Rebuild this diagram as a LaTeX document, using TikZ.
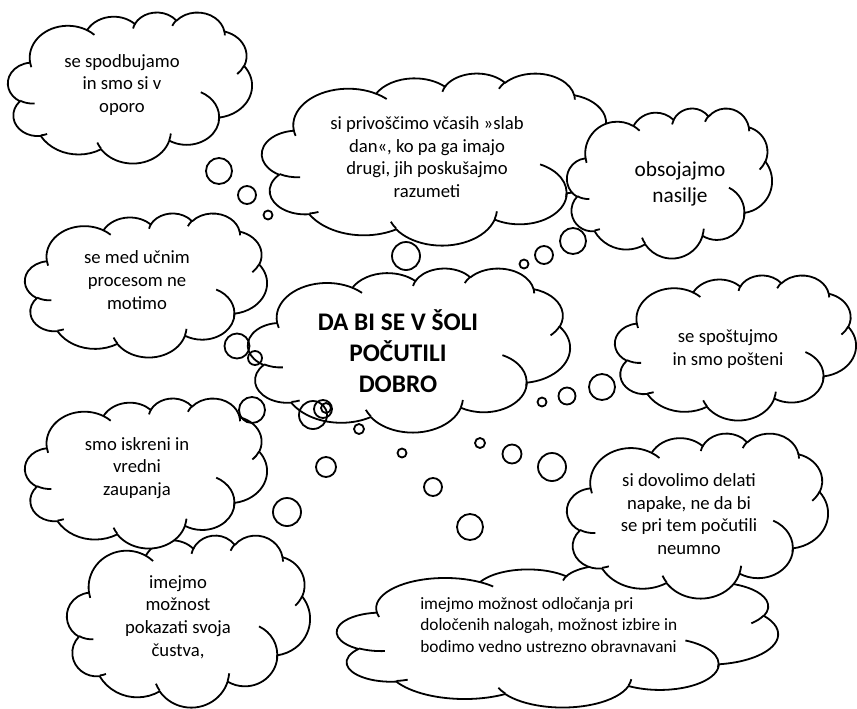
\documentclass[tikz,border=0pt]{standalone}
\usepackage{fontspec}
\setmainfont{Carlito}
\usetikzlibrary{positioning}

% cloud outline and inner creases, in a 43.2 x 43.2 box
\def\cloudrim{}
\foreach \wr/\hr/\st/\sw in {6.753/9.190/-190.4875/123.7805, 5.333/7.267/-144.1024/89.9452,
	4.365/5.945/-145.8079/99.7230, 4.857/6.595/-130.9861/117.2417, 5.333/7.273/-78.7089/109.0269,
	6.775/9.220/-46.2673/130.2690, 5.785/7.867/0.6250/114.0333, 6.752/9.215/22.4516/115.1726,
	7.720/10.543/66.2426/75.7110, 4.360/5.918/-274.9421/146.7356, 4.345/5.945/-246.8285/152.5189}{
	\pgfmathsetmacro\ta{atan2(\wr*sin(\st),\hr*cos(\st))}
	\pgfmathsetmacro\tb{atan2(\wr*sin(\st+\sw),\hr*cos(\st+\sw))}
	\pgfmathsetmacro\td{mod(\tb-\ta+720,360)}
	\xdef\cloudrim{\cloudrim arc[start angle=\ta, delta angle=\td, x radius=\wr, y radius=\hr]}
}
\def\cloudcrease{}
\foreach \px/\py/\wr/\hr/\st/\sw in {4.693/26.177/4.345/5.945/86.742/26.4295,
	6.928/34.899/4.360/5.918/73.6105/11.4475, 16.478/39.090/6.752/9.215/137.6242/14.0811,
	28.827/34.751/6.752/9.215/6.4533/15.9984, 34.129/22.954/5.785/7.867/-70.2924/81.5787,
	41.798/15.354/5.333/7.273/30.3180/24.5677, 38.324/5.426/4.857/6.595/-13.7443/14.8541,
	29.078/3.952/4.857/6.595/-149.1815/18.1959, 22.141/4.720/4.365/5.945/-163.4943/19.0095,
	14.000/5.192/6.753/9.190/-66.7070/12.3194, 4.127/15.789/6.753/9.190/157.6544/11.8582}{
	\pgfmathsetmacro\ta{atan2(\wr*sin(\st),\hr*cos(\st))}
	\pgfmathsetmacro\tb{atan2(\wr*sin(\st+\sw),\hr*cos(\st+\sw))}
	\pgfmathsetmacro\td{mod(\tb-\ta+720,360)}
	\xdef\cloudcrease{\cloudcrease (\px,\py) arc[start angle=\ta, delta angle=\td, x radius=\wr, y radius=\hr]}
}

\tikzset{
	cloudline/.style = {line width=1.35pt, black, line join=round},
	bubble/.style = {line width=1.35pt, black},
	cloudtext/.style = {align=center, inner sep=0pt, font=\fontsize{14}{17}\selectfont}
}

% left, top, right, bottom (picture pixels)
\newcommand\wcloud[4]{%
	\pgfmathsetmacro\cwx{(#3-#1)/43.2}%
	\pgfmathsetmacro\cwy{(#4-#2)/43.2}%
	\begin{scope}[shift={(#1,#2)}, xscale=\cwx, yscale=\cwy]
		\draw[cloudline, fill=white] (3.9,14.37) \cloudrim -- cycle;
		\draw[cloudline] \cloudcrease;
	\end{scope}}

\begin{document}
\begin{tikzpicture}[x=0.75pt, y=-0.75pt]
	\useasboundingbox (0,0) rectangle (857,708);

	\wcloud{8}{12}{252}{163}
	\wcloud{262}{73}{614}{245}
	\wcloud{567}{108}{772}{258}
	\wcloud{25}{213}{267}{357}
	\wcloud{248}{268}{570}{432}
	\wcloud{615}{275}{856}{420}
	\wcloud{67}{535}{310}{707}
	\wcloud{25}{398}{267}{548}
	\wcloud{337}{565}{778}{707}
	\wcloud{567}{433}{828}{598}

	\node[cloudtext] (opora) at (122,85) {se spodbujamo\\in smo si v\\oporo};
	\node[cloudtext] (slabdan) at (427,157) {si privoščimo včasih »slab\\dan«, ko pa ga imajo\\drugi, jih poskušajmo\\razumeti};
	\node[cloudtext, font=\fontsize{16}{19.5}\selectfont] (nasilje) at (680,184) {obsojajmo\\nasilje};
	\node[cloudtext] (motimo) at (137,280) {se med učnim\\procesom ne\\motimo};
	\node[cloudtext, font=\fontsize{19}{23}\selectfont\bfseries] (sola) at (398,351) {DA BI SE V ŠOLI\\POČUTILI\\DOBRO};
	\node[cloudtext] (postenost) at (728,349) {se spoštujmo\\in smo pošteni};
	\node[cloudtext] (zaupanje) at (137,468) {smo iskreni in\\vredni\\zaupanja};
	\node[cloudtext] (napake) at (689,514) {si dovolimo delati\\napake, ne da bi\\se pri tem počutili\\neumno};
	\node[cloudtext] (custva) at (178,617) {imejmo\\možnost\\pokazati svoja\\čustva,};
	\node[cloudtext, align=left, anchor=west, font=\fontsize{13}{16}\selectfont] (izbira) at (420,625) {imejmo možnost odločanja pri\\določenih nalogah, možnost izbire in\\bodimo vedno ustrezno obravnavani};

	% thought bubbles
	\foreach \x/\y/\r in {219/171/13, 247/195/9, 268/215/4.5, 406/256/14, 524/264/4.5, 544/255/9,
		573/241/13, 237/346/12.5, 255/358/7, 252/410/13, 313/415/14, 323/409/9, 326/408/5,
		359/429/5, 402/453/4.5, 326/467/10, 287/512/14, 433/487/9, 470/527/13, 480/443/5,
		512/454/9.5, 552/467/14, 542/402/4.5, 567/396/8.5, 602/387/13}
		\draw[bubble] (\x,\y) circle[radius=\r];
\end{tikzpicture}
\end{document}
